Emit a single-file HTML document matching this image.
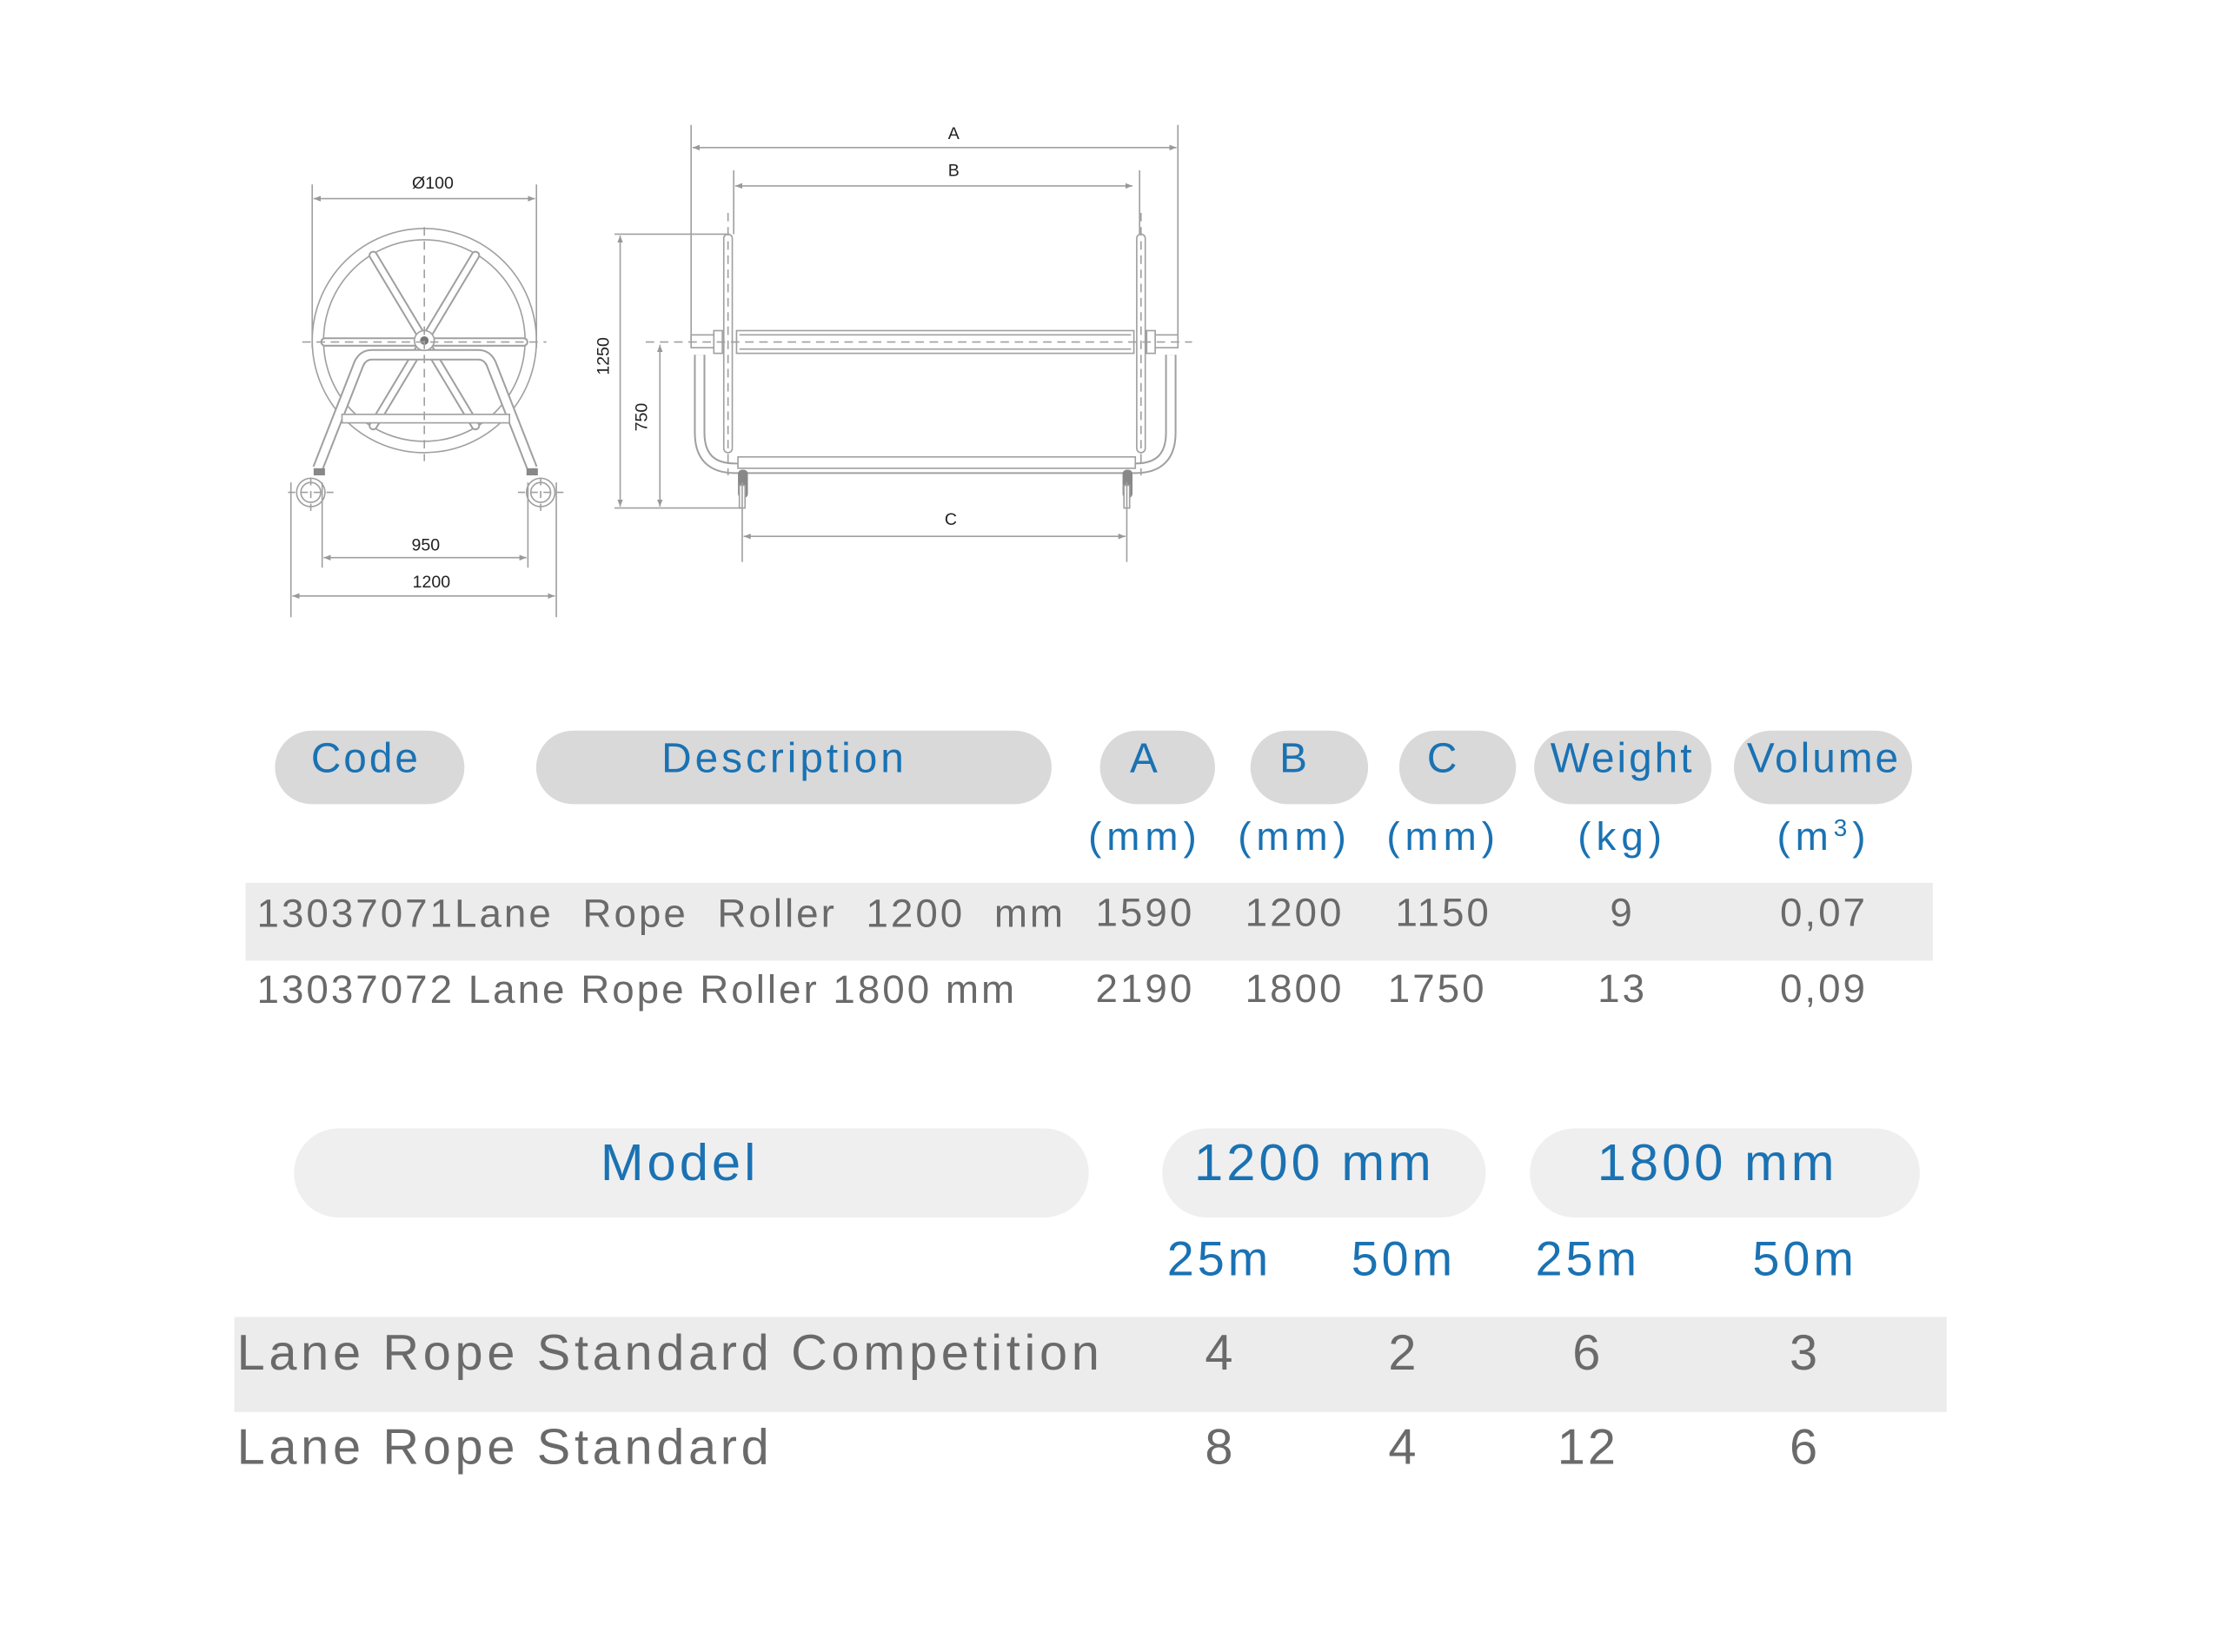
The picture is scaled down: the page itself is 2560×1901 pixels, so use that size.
<!DOCTYPE html>
<html><head><meta charset="utf-8"><style>
body{margin:0;background:#fff;}
#p{position:relative;width:2560px;height:1901px;overflow:hidden;font-family:"Liberation Sans",sans-serif;}
#in{position:absolute;left:0;top:0;width:2560px;height:1901px;transform:scale(0.995);transform-origin:0 0;}
.pill{position:absolute;border-radius:60px;}
.t{position:absolute;white-space:nowrap;transform:translate(-50%,-50%);line-height:1;letter-spacing:3px;}
.b{color:#1a72b3;}
.g{color:#6a6a6a;}
.band{position:absolute;background:#ececec;}
svg{position:absolute;left:0;top:0;}
</style></head><body><div id="p"><div id="in">
<svg width="2560" height="1901" viewBox="0 0 1560 1158.4" fill="none" stroke="#9a9a9a" stroke-width="1">
<defs><marker id="ar" viewBox="0 0 10 10" refX="10" refY="5" markerWidth="5" markerHeight="5" orient="auto-start-reverse"><path d="M0,1 L10,5 L0,9z" fill="#999" stroke="none"/></marker></defs>
<g stroke="#a0a0a0">
<line x1="220" y1="130" x2="220" y2="245"/><line x1="378" y1="130" x2="378" y2="245"/>
<line x1="221" y1="140" x2="377" y2="140" marker-start="url(#ar)" marker-end="url(#ar)"/>
<circle cx="299" cy="240" r="79"/><circle cx="299" cy="240" r="71"/>
<g stroke-width="6.5" stroke-linecap="round"><line x1="299" y1="240" x2="263" y2="180"/><line x1="299" y1="240" x2="335" y2="180"/><line x1="299" y1="240" x2="263" y2="300"/><line x1="299" y1="240" x2="335" y2="300"/><line x1="229" y1="241" x2="369" y2="241"/></g>
<g stroke="#fff" stroke-width="4" stroke-linecap="round"><line x1="299" y1="240" x2="263" y2="180"/><line x1="299" y1="240" x2="335" y2="180"/><line x1="299" y1="240" x2="263" y2="300"/><line x1="299" y1="240" x2="335" y2="300"/><line x1="229" y1="241" x2="369" y2="241"/></g>
<path d="M224,330 L253,256 Q256,250 262,250 L337,250 Q343,250 346,256 L375,330" stroke-width="8" stroke-linejoin="round"/>
<path d="M224,330 L253,256 Q256,250 262,250 L337,250 Q343,250 346,256 L375,330" stroke="#fff" stroke-width="5.5" stroke-linejoin="round"/>
<rect x="241" y="292" width="118" height="6" fill="#fff"/>
<circle cx="299" cy="240" r="7" fill="#fff"/><circle cx="299" cy="240" r="3" fill="#777" stroke="none"/>
<g stroke-dasharray="6,4"><line x1="299" y1="160" x2="299" y2="325"/><line x1="213" y1="241" x2="385" y2="241"/></g>
<circle cx="219" cy="347" r="10"/><circle cx="219" cy="347" r="7"/><circle cx="381" cy="347" r="10"/><circle cx="381" cy="347" r="7"/>
<rect x="221" y="330" width="8" height="5" fill="#888" stroke="none"/><rect x="371" y="330" width="8" height="5" fill="#888" stroke="none"/>
<g stroke-dasharray="5,4"><line x1="203" y1="347" x2="235" y2="347"/><line x1="365" y1="347" x2="397" y2="347"/><line x1="219" y1="337" x2="219" y2="360"/><line x1="381" y1="337" x2="381" y2="360"/></g>
<line x1="227" y1="340" x2="227" y2="400"/><line x1="372" y1="340" x2="372" y2="400"/>
<line x1="205" y1="340" x2="205" y2="435"/><line x1="392" y1="340" x2="392" y2="435"/>
<line x1="228" y1="393" x2="371" y2="393" marker-start="url(#ar)" marker-end="url(#ar)"/>
<line x1="206" y1="420" x2="391" y2="420" marker-start="url(#ar)" marker-end="url(#ar)"/>
</g>
<g stroke="#a0a0a0">
<line x1="487" y1="88" x2="487" y2="240"/><line x1="830" y1="88" x2="830" y2="240"/>
<line x1="488" y1="104" x2="829" y2="104" marker-start="url(#ar)" marker-end="url(#ar)"/>
<line x1="517" y1="120" x2="517" y2="165"/><line x1="803" y1="120" x2="803" y2="165"/>
<line x1="518" y1="131" x2="798" y2="131" marker-start="url(#ar)" marker-end="url(#ar)"/>
<path d="M493,250 L493,305 Q493,330 518,330 L800,330 Q825,330 825,305 L825,250" stroke-width="8"/>
<path d="M493,250 L493,305 Q493,330 518,330 L800,330 Q825,330 825,305 L825,250" stroke="#fff" stroke-width="5.5"/>
<rect x="520" y="322" width="280" height="8" fill="#fff"/>
<rect x="510" y="165" width="6" height="154" rx="3" fill="#fff"/><rect x="801" y="165" width="6" height="154" rx="3" fill="#fff"/>
<rect x="519" y="233" width="280" height="16" fill="#fff"/><line x1="521" y1="236" x2="797" y2="236"/><line x1="521" y1="246" x2="797" y2="246"/>
<rect x="487" y="236" width="17" height="9" fill="#fff"/><rect x="503" y="233" width="6" height="16" fill="#fff"/>
<rect x="813" y="236" width="17" height="9" fill="#fff"/><rect x="808" y="233" width="6" height="16" fill="#fff"/>
<g stroke-dasharray="6,4"><line x1="455" y1="241" x2="840" y2="241"/><line x1="513" y1="150" x2="513" y2="335"/><line x1="804" y1="150" x2="804" y2="335"/></g>
<rect x="520" y="331" width="7" height="20" rx="3" fill="#888" stroke="none"/><rect x="791" y="331" width="7" height="20" rx="3" fill="#888" stroke="none"/>
<rect x="521" y="342" width="4" height="16" fill="#fff"/><rect x="792" y="342" width="4" height="16" fill="#fff"/>
<line x1="433" y1="165" x2="512" y2="165"/><line x1="433" y1="358" x2="523" y2="358"/>
<line x1="437" y1="166" x2="437" y2="357" marker-start="url(#ar)" marker-end="url(#ar)"/>
<line x1="465" y1="243" x2="465" y2="357" marker-start="url(#ar)" marker-end="url(#ar)"/>
<line x1="523" y1="340" x2="523" y2="396"/><line x1="794" y1="340" x2="794" y2="396"/>
<line x1="524" y1="378" x2="793" y2="378" marker-start="url(#ar)" marker-end="url(#ar)"/>
</g>
<g fill="#222" stroke="none" font-family="Liberation Sans, sans-serif" font-size="12" text-anchor="middle">
<text x="305" y="133">Ø100</text><text x="300" y="388">950</text><text x="304" y="414">1200</text>
<text x="672" y="98">A</text><text x="672" y="124">B</text><text x="670" y="370">C</text>
<text transform="translate(429,251) rotate(-90)">1250</text><text transform="translate(456,294) rotate(-90)">750</text>
</g>
</svg>

<div class="pill" style="left:318px;top:845px;width:219px;height:85px;background:#d9d9d9"></div>
<div class="pill" style="left:620px;top:845px;width:596px;height:85px;background:#d9d9d9"></div>
<div class="pill" style="left:1272px;top:845px;width:133px;height:85px;background:#d9d9d9"></div>
<div class="pill" style="left:1446px;top:845px;width:136px;height:85px;background:#d9d9d9"></div>
<div class="pill" style="left:1618px;top:845px;width:135px;height:85px;background:#d9d9d9"></div>
<div class="pill" style="left:1774px;top:845px;width:205px;height:85px;background:#d9d9d9"></div>
<div class="pill" style="left:2005px;top:845px;width:206px;height:85px;background:#d9d9d9"></div>
<div class="t b" style="left:423px;top:878px;font-size:48px">Code</div>
<div class="t b" style="left:907px;top:878px;font-size:48px;letter-spacing:4px">Description</div>
<div class="t b" style="left:1324px;top:878px;font-size:48px">A</div>
<div class="t b" style="left:1497px;top:878px;font-size:48px">B</div>
<div class="t b" style="left:1669px;top:878px;font-size:48px">C</div>
<div class="t b" style="left:1876px;top:878px;font-size:48px">Weight</div>
<div class="t b" style="left:2109px;top:878px;font-size:48px">Volume</div>
<div class="t b" style="left:1324px;top:967px;font-size:46px;letter-spacing:6px">(mm)</div>
<div class="t b" style="left:1497px;top:967px;font-size:46px;letter-spacing:6px">(mm)</div>
<div class="t b" style="left:1669px;top:967px;font-size:46px;letter-spacing:6px">(mm)</div>
<div class="t b" style="left:1876px;top:967px;font-size:46px;letter-spacing:6px">(kg)</div>
<div class="t b" style="left:2109px;top:967px;font-size:46px;letter-spacing:6px">(m<sup style="font-size:28px">3</sup>)</div>
<div class="band" style="left:284px;top:1021px;width:1951px;height:90px"></div>
<div class="t g" style="left:297px;top:1056px;font-size:46px;transform:translateY(-50%);word-spacing:18px">13037071Lane Rope Roller 1200 mm</div>
<div class="t g" style="left:297px;top:1144px;font-size:46px;transform:translateY(-50%)">13037072 Lane Rope Roller 1800 mm</div>
<div class="t g" style="left:1324px;top:1055px;font-size:46px">1590</div>
<div class="t g" style="left:1497px;top:1055px;font-size:46px">1200</div>
<div class="t g" style="left:1669px;top:1055px;font-size:46px">1150</div>
<div class="t g" style="left:1876px;top:1055px;font-size:46px">9</div>
<div class="t g" style="left:2109px;top:1055px;font-size:46px">0,07</div>
<div class="t g" style="left:1324px;top:1143px;font-size:46px">2190</div>
<div class="t g" style="left:1497px;top:1143px;font-size:46px">1800</div>
<div class="t g" style="left:1662px;top:1143px;font-size:46px">1750</div>
<div class="t g" style="left:1876px;top:1143px;font-size:46px">13</div>
<div class="t g" style="left:2109px;top:1143px;font-size:46px">0,09</div>

<div class="pill" style="left:340px;top:1305px;width:919px;height:103px;background:#efefef"></div>
<div class="pill" style="left:1344px;top:1305px;width:374px;height:103px;background:#efefef"></div>
<div class="pill" style="left:1769px;top:1305px;width:451px;height:103px;background:#efefef"></div>
<div class="t b" style="left:786px;top:1345px;font-size:60px;letter-spacing:4px">Model</div>
<div class="t b" style="left:1520px;top:1345px;font-size:60px;letter-spacing:4px">1200 mm</div>
<div class="t b" style="left:1986px;top:1345px;font-size:60px;letter-spacing:4px">1800 mm</div>
<div class="t b" style="left:1410px;top:1456px;font-size:56px;letter-spacing:4px">25m</div>
<div class="t b" style="left:1623px;top:1456px;font-size:56px;letter-spacing:4px">50m</div>
<div class="t b" style="left:1836px;top:1456px;font-size:56px;letter-spacing:4px">25m</div>
<div class="t b" style="left:2087px;top:1456px;font-size:56px;letter-spacing:4px">50m</div>
<div class="band" style="left:271px;top:1523px;width:1980px;height:110px"></div>
<div class="t g" style="left:274px;top:1565px;font-size:58px;transform:translateY(-50%);letter-spacing:4.7px">Lane Rope Standard Competition</div>
<div class="t g" style="left:274px;top:1674px;font-size:58px;transform:translateY(-50%);letter-spacing:4.7px">Lane Rope Standard</div>
<div class="t g" style="left:1411px;top:1565px;font-size:58px">4</div>
<div class="t g" style="left:1623px;top:1565px;font-size:58px">2</div>
<div class="t g" style="left:1836px;top:1565px;font-size:58px">6</div>
<div class="t g" style="left:2087px;top:1565px;font-size:58px">3</div>
<div class="t g" style="left:1411px;top:1674px;font-size:58px">8</div>
<div class="t g" style="left:1623px;top:1674px;font-size:58px">4</div>
<div class="t g" style="left:1836px;top:1674px;font-size:58px">12</div>
<div class="t g" style="left:2087px;top:1674px;font-size:58px">6</div>
</div></div></body></html>
